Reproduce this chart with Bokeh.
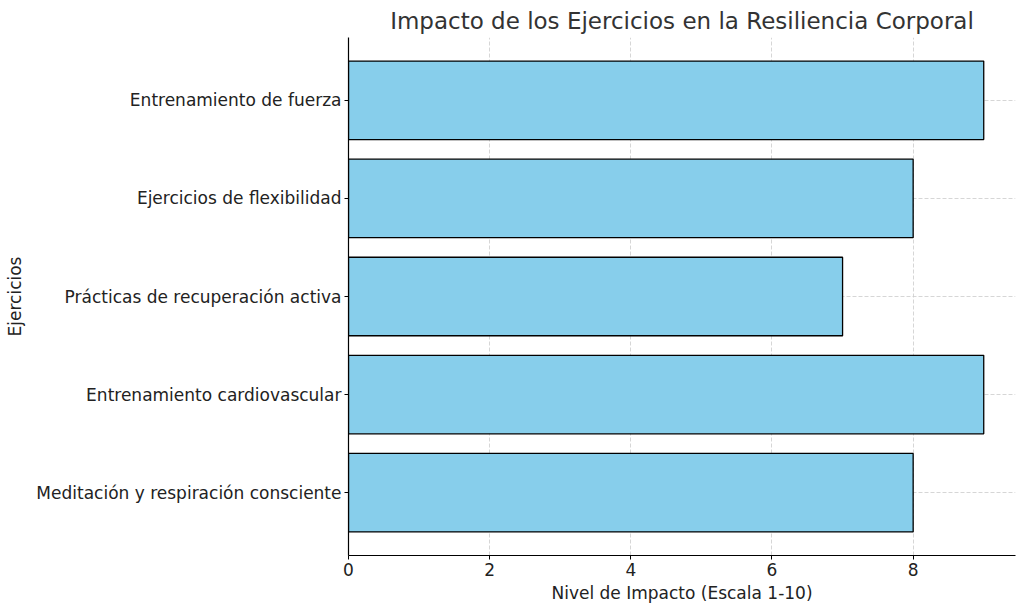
from bokeh.plotting import figure
from bokeh.models import Range1d, FixedTicker, ColumnDataSource
from bokeh.embed import file_html
from bokeh.resources import INLINE

ejercicios = [
    "Meditación y respiración consciente",
    "Entrenamiento cardiovascular",
    "Prácticas de recuperación activa",
    "Ejercicios de flexibilidad",
    "Entrenamiento de fuerza",
]
impacto = [8, 9, 7, 8, 9]
x_ticks = [0, 2, 4, 6, 8]

pos = list(range(len(ejercicios)))
src = ColumnDataSource(dict(y=pos, right=impacto, name=ejercicios))

FONT = "DejaVu Sans"

p = figure(width=1024, height=611, output_backend="svg", toolbar_location=None,
           x_range=Range1d(0, max(impacto) * 1.05),
           y_range=Range1d(-0.64, len(ejercicios) - 1 + 0.64),
           title="Impacto de los Ejercicios en la Resiliencia Corporal",
           min_border_left=348, min_border_right=9, min_border_top=37, min_border_bottom=56)

p.hbar(y="y", right="right", left=0, height=0.8, source=src,
       fill_color="#87CEEB", line_color="black", line_width=1.3)

p.outline_line_color = None
p.title.align = "center"
p.title.text_font = FONT
p.title.text_font_size = "23px"
p.title.text_font_style = "normal"
p.title.text_color = "#333333"
p.title.offset = 0
p.title.standoff = 7

p.xaxis.ticker = FixedTicker(ticks=x_ticks)
p.yaxis.ticker = FixedTicker(ticks=pos)
p.yaxis.major_label_overrides = {i: n for i, n in enumerate(ejercicios)}

p.xaxis.axis_label = "Nivel de Impacto (Escala 1-10)"
p.yaxis.axis_label = "Ejercicios"

for ax in (p.xaxis[0], p.yaxis[0]):
    ax.axis_label_text_font = FONT
    ax.axis_label_text_font_size = "17px"
    ax.axis_label_text_font_style = "normal"
    ax.axis_label_text_color = "#222222"
    ax.major_label_text_font = FONT
    ax.major_label_text_font_size = "17px"
    ax.major_label_text_color = "#222222"
    ax.axis_line_color = "black"
    ax.axis_line_width = 1.2
    ax.major_tick_line_color = "black"
    ax.major_tick_out = 4
    ax.major_tick_in = 0
    ax.minor_tick_line_color = None
    ax.major_label_standoff = 3

p.xaxis.axis_label_standoff = 4
p.yaxis.axis_label_standoff = 8

p.xgrid.ticker = FixedTicker(ticks=x_ticks)
p.ygrid.ticker = FixedTicker(ticks=pos)
for g in (p.xgrid[0], p.ygrid[0]):
    g.grid_line_color = "#cccccc"
    g.grid_line_dash = "4 2"
    g.grid_line_width = 0.8

open("out.html", "w").write(file_html(p, INLINE))
